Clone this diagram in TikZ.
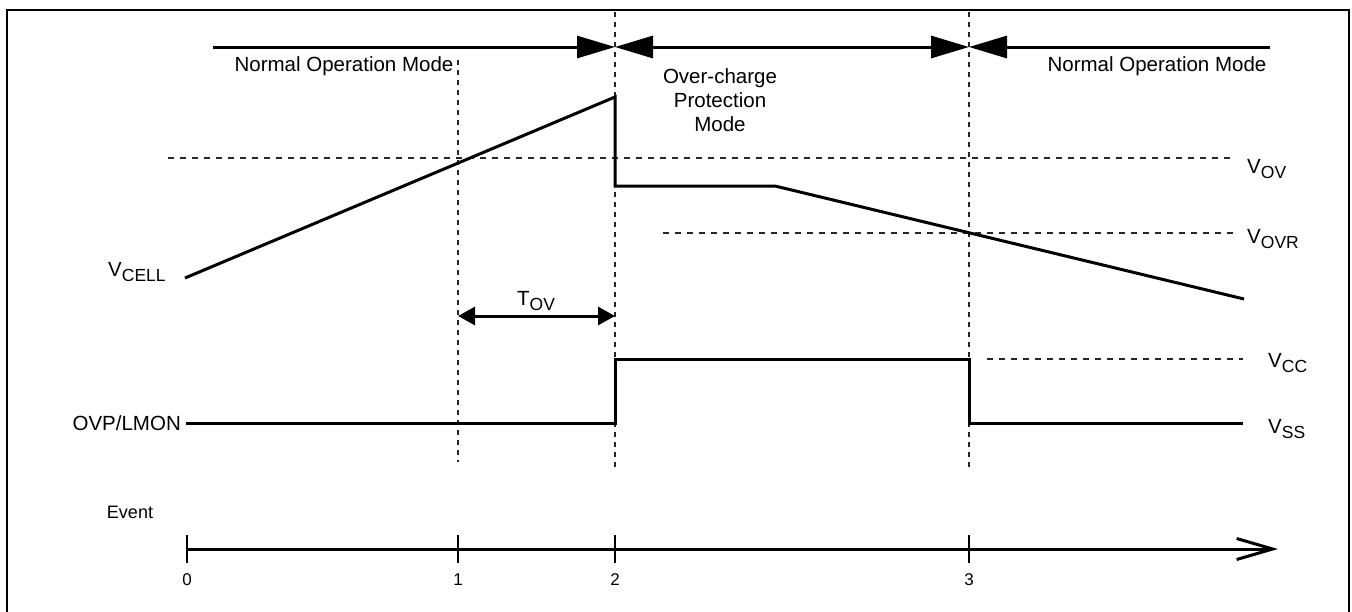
\documentclass[tikz,border=0pt]{standalone}
\usepackage{fontspec}
\setmainfont{Liberation Sans}
\usetikzlibrary{arrows.meta}
\newcommand\vsub[2]{#1\raisebox{-5pt}{\fontsize{17.5}{17.5}\selectfont #2}}
\begin{document}
\begin{tikzpicture}[x=1pt,y=-1pt,
  sig/.style={line width=3pt, line join=miter},
  vdot/.style={line width=1.2pt, dash pattern=on 5pt off 5pt, black!85},
  hdash/.style={line width=1.2pt, dash pattern=on 6pt off 6pt, black!85},
  lbl/.style={font=\fontsize{20.5}{24}\selectfont, inner sep=0pt},
  numlbl/.style={font=\fontsize{17}{17}\selectfont, inner sep=0pt},
  tick/.style={line width=1.6pt}]
\useasboundingbox (0,0) rectangle (1352,611);
% frame
\draw[line width=2pt] (7,625) -- (7,10) -- (1349,10) -- (1349,625);

% event x positions
\coordinate (e0) at (187,549);
\coordinate (e1) at (458,549);
\coordinate (e2) at (615,549);
\coordinate (e3) at (969,549);
\coordinate (eend) at (1278,549);

% top mode arrows
\coordinate (tL) at (213,47);
\coordinate (t2) at (615,47);
\coordinate (t3) at (969,47);
\coordinate (tR) at (1270,47);
\draw[sig, -{Triangle[length=38pt,width=22pt]}] (tL) -- (t2);
\draw[sig, {Triangle[length=38pt,width=22pt]}-{Triangle[length=38pt,width=22pt]}] (t2) -- (t3);
\draw[sig, {Triangle[length=38pt,width=22pt]}-] (t3) -- (tR);

% vertical dotted markers
\coordinate (d1t) at (458,60);  \coordinate (d1b) at (458,462);
\coordinate (d2t) at (615,12);  \coordinate (d2b) at (615,470);
\coordinate (d3t) at (969,12);  \coordinate (d3b) at (969,470);
\draw[vdot] (d1t) -- (d1b);
\draw[vdot] (d2t) -- (d2b);
\draw[vdot] (d3t) -- (d3b);

% mode labels
\node[lbl] (nom1) at (344,66) {Normal Operation Mode};
\node[lbl, align=center] (ocp) at (720,100) {Over-charge\\Protection\\Mode};
\node[lbl] (nom2) at (1157,66) {Normal Operation Mode};

% threshold lines
\coordinate (ov1) at (168,158); \coordinate (ov2) at (1235,158);
\coordinate (ovr1) at (663,233); \coordinate (ovr2) at (1235,233);
\coordinate (vcc1) at (987,359); \coordinate (vcc2) at (1243,359);
\draw[hdash] (ov1) -- (ov2);
\draw[hdash] (ovr1) -- (ovr2);
\draw[hdash] (vcc1) -- (vcc2);

\node[lbl, anchor=base west] (lov) at (1247,173) {\vsub{V}{OV}};
\node[lbl, anchor=base west] (lovr) at (1247,243) {\vsub{V}{OVR}};
\node[lbl, anchor=base west] (lvcc) at (1268,367) {\vsub{V}{CC}};
\node[lbl, anchor=base west] (lvss) at (1268,433) {\vsub{V}{SS}};

% VCELL waveform
\coordinate (c0) at (185,278);
\coordinate (c1) at (615,97);
\coordinate (c2) at (615,186);
\coordinate (c3) at (775,186);
\coordinate (c4) at (1244,299);
\draw[sig] (c0) -- (c1) -- (c2) -- (c3) -- (c4);
\node[lbl, anchor=base west] (lcell) at (108,276) {\vsub{V}{CELL}};

% T_OV
\coordinate (to1) at (458,316);
\coordinate (to2) at (615,316);
\draw[sig, {Triangle[length=17pt,width=18pt]}-{Triangle[length=17pt,width=18pt]}] (to1) -- (to2);
\node[lbl, anchor=base west] (ltov) at (517,305) {\vsub{T}{OV}};

% OVP/LMON waveform
\coordinate (o0) at (186,423);
\coordinate (o1) at (615,423);
\coordinate (o2) at (615,359);
\coordinate (o3) at (969,359);
\coordinate (o4) at (969,423);
\coordinate (o5) at (1243,423);
\draw[sig] (o0) -- (o1) -- (o2) -- (o3) -- (o4) -- (o5);
\node[lbl, anchor=east] (lovp) at (181,423) {OVP/LMON};

% event axis
\draw[sig, -{Straight Barb[length=36pt,width=21pt,line width=3pt]}] (e0) -- (eend);
\foreach \n in {e0,e1,e2,e3} {
  \draw[tick] ([yshift=-14pt]\n) -- ([yshift=14pt]\n);
}
\node[font=\fontsize{18}{18}\selectfont, inner sep=0pt, anchor=base] (lev) at (130,518) {Event};
\node[numlbl, anchor=base] (n0) at (187,585) {0};
\node[numlbl, anchor=base] (n1) at (458,585) {1};
\node[numlbl, anchor=base] (n2) at (615,585) {2};
\node[numlbl, anchor=base] (n3) at (969,585) {3};
\end{tikzpicture}
\end{document}
